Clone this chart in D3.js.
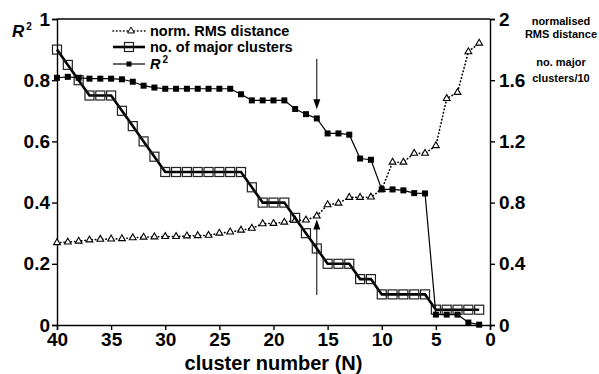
<!DOCTYPE html>
<html>
<head>
<meta charset="utf-8">
<script src="https://cdn.jsdelivr.net/npm/d3@7"></script>
<style>
  body { margin: 0; background: #fff; }
  svg { font-family: "Liberation Sans", Arial, sans-serif; }
  .axis text { font-weight: bold; font-size: 19px; fill: #000; }
  .axis path, .axis line { stroke: #000; stroke-width: 1.4; }
</style>
</head>
<body>
<svg id="chart" width="599" height="374"></svg>
<script>
"use strict";
// cluster number N (x axis runs from 40 down to 0)
const clusterN = [40, 39, 38, 37, 36, 35, 34, 33, 32, 31, 30, 29, 28, 27, 26, 25, 24, 23, 22, 21,
                  20, 19, 18, 17, 16, 15, 14, 13, 12, 11, 10, 9, 8, 7, 6, 5, 4, 3, 2, 1];
// R^2 (left axis)
const rSquared = [0.808, 0.811, 0.808, 0.805, 0.805, 0.805, 0.803, 0.795, 0.782, 0.776,
                  0.772, 0.772, 0.772, 0.772, 0.772, 0.772, 0.772, 0.754, 0.734, 0.734,
                  0.734, 0.734, 0.706, 0.689, 0.675, 0.626, 0.626, 0.622, 0.544, 0.540,
                  0.443, 0.443, 0.440, 0.431, 0.430, 0.034, 0.034, 0.034, 0.008, 0.001];
// no. of major clusters (plotted as clusters/10 on right axis)
const majorClusters = [18, 17, 16, 15, 15, 15, 14, 13, 12, 11, 10, 10, 10, 10, 10, 10, 10, 10, 9, 8,
                       8, 8, 7, 6, 5, 4, 4, 4, 3, 3, 2, 2, 2, 2, 2, 1, 1, 1, 1, 1];
// normalised RMS distance (right axis)
const rmsDist = [0.538, 0.542, 0.548, 0.556, 0.560, 0.562, 0.564, 0.570, 0.574, 0.576,
                 0.578, 0.578, 0.582, 0.584, 0.586, 0.600, 0.608, 0.620, 0.632, 0.662,
                 0.664, 0.672, 0.684, 0.686, 0.712, 0.786, 0.796, 0.834, 0.834, 0.836,
                 0.886, 1.064, 1.064, 1.122, 1.122, 1.172, 1.480, 1.520, 1.786, 1.842];

const xTicks = [40, 35, 30, 25, 20, 15, 10, 5, 0];
const leftTicks = [0, 0.2, 0.4, 0.6, 0.8, 1];
const rightTicks = [0, 0.4, 0.8, 1.2, 1.6, 2];
// annotation arrows at N = 16 (left axis units)
const arrows = [{n: 16, from: 0.87, to: 0.705}, {n: 16, from: 0.098, to: 0.345}];

const svg = d3.select("#chart");
const margin = {top: 19, right: 109, bottom: 49, left: 57};
const width = 599 - margin.left - margin.right,
    height = 374 - margin.top - margin.bottom;

const x = d3.scaleLinear().domain([40, 0]).range([margin.left, margin.left + width]);
const yL = d3.scaleLinear().domain([0, 1]).range([margin.top + height, margin.top]);
const yR = d3.scaleLinear().domain([0, 2]).range([margin.top + height, margin.top]);
const fmt = d => (d === 0 ? "0" : String(+d.toFixed(1)));

// axes
svg.append("g").attr("class", "axis")
    .attr("transform", `translate(0,${margin.top + height})`)
    .call(d3.axisBottom(x).tickValues(xTicks).tickSize(5).tickPadding(3).tickFormat(d3.format("d")));
svg.append("g").attr("class", "axis")
    .attr("transform", `translate(${margin.left},0)`)
    .call(d3.axisLeft(yL).tickValues(leftTicks).tickSize(5).tickPadding(2).tickFormat(fmt));
svg.append("g").attr("class", "axis")
    .attr("transform", `translate(${margin.left + width},0)`)
    .call(d3.axisRight(yR).tickValues(rightTicks).tickSize(5).tickPadding(4).tickFormat(fmt));
// top frame
svg.append("line")
    .attr("x1", margin.left).attr("x2", margin.left + width)
    .attr("y1", margin.top).attr("y2", margin.top)
    .attr("stroke", "#000").attr("stroke-width", 1.4);

const idx = d3.range(clusterN.length);

// normalised RMS distance: dotted line with open triangles
const rmsLine = d3.line().x(i => x(clusterN[i])).y(i => yR(rmsDist[i]));
svg.append("path").datum(idx)
    .attr("d", rmsLine)
    .attr("fill", "none").attr("stroke", "#000")
    .attr("stroke-width", 1.6).attr("stroke-dasharray", "0.5,3").attr("stroke-linecap", "round");
const tri = d3.symbol().type(d3.symbolTriangle).size(20);
svg.append("g").selectAll("path")
    .data(idx).enter().append("path")
    .attr("transform", i => `translate(${x(clusterN[i])},${yR(rmsDist[i])})`)
    .attr("d", tri)
    .attr("fill", "#fff").attr("stroke", "#000").attr("stroke-width", 1.1);

// no. of major clusters: thick line with open squares
const mcLine = d3.line().x(i => x(clusterN[i])).y(i => yR(majorClusters[i] / 10));
svg.append("path").datum(idx)
    .attr("d", mcLine)
    .attr("fill", "none").attr("stroke", "#000").attr("stroke-width", 2.6);
svg.append("g").selectAll("rect")
    .data(idx).enter().append("rect")
    .attr("x", i => x(clusterN[i]) - 4.5)
    .attr("y", i => yR(majorClusters[i] / 10) - 4.5)
    .attr("width", 9).attr("height", 9)
    .attr("fill", "none").attr("stroke", "#222").attr("stroke-width", 1.2);

// R^2: thin line with filled squares
const r2Line = d3.line().x(i => x(clusterN[i])).y(i => yL(rSquared[i]));
svg.append("path").datum(idx)
    .attr("d", r2Line)
    .attr("fill", "none").attr("stroke", "#000").attr("stroke-width", 1.2);
svg.append("g").selectAll("rect")
    .data(idx).enter().append("rect")
    .attr("x", i => x(clusterN[i]) - 3)
    .attr("y", i => yL(rSquared[i]) - 3)
    .attr("width", 6).attr("height", 6)
    .attr("fill", "#000");

// arrows
for (let a of arrows) {
    const ax = x(a.n), y0 = yL(a.from), y1 = yL(a.to);
    const dir = y1 > y0 ? 1 : -1;
    svg.append("line")
        .attr("x1", ax).attr("x2", ax).attr("y1", y0).attr("y2", y1 - dir * 6)
        .attr("stroke", "#000").attr("stroke-width", 1);
    svg.append("path")
        .attr("d", `M${ax},${y1} L${ax - 3.5},${y1 - dir * 10} L${ax + 3.5},${y1 - dir * 10} Z`)
        .attr("fill", "#000");
}

// legend
const legend = svg.append("g").attr("font-weight", "bold").attr("font-size", "14.5px");
const lx0 = 113, lx1 = 145, ltx = 150;
const rows = [31, 47, 64];
legend.append("line").attr("x1", lx0).attr("x2", lx1).attr("y1", rows[0]).attr("y2", rows[0])
    .attr("stroke", "#000").attr("stroke-width", 1.6).attr("stroke-dasharray", "0.5,3").attr("stroke-linecap", "round");
legend.append("path").attr("transform", `translate(${(lx0 + lx1) / 2 + 2},${rows[0]})`).attr("d", tri)
    .attr("fill", "#fff").attr("stroke", "#000");
legend.append("text").attr("x", ltx).attr("y", rows[0]).attr("dy", "0.35em").text("norm. RMS distance");

legend.append("line").attr("x1", lx0).attr("x2", lx1).attr("y1", rows[1]).attr("y2", rows[1])
    .attr("stroke", "#000").attr("stroke-width", 2.6);
legend.append("rect").attr("x", (lx0 + lx1) / 2 - 4.5).attr("y", rows[1] - 4.5).attr("width", 9).attr("height", 9)
    .attr("fill", "none").attr("stroke", "#222").attr("stroke-width", 1.2);
legend.append("text").attr("x", ltx).attr("y", rows[1]).attr("dy", "0.35em").text("no. of major clusters");

legend.append("line").attr("x1", lx0).attr("x2", lx1).attr("y1", rows[2]).attr("y2", rows[2])
    .attr("stroke", "#000").attr("stroke-width", 1.2);
legend.append("rect").attr("x", (lx0 + lx1) / 2 - 2.5).attr("y", rows[2] - 2.5).attr("width", 5).attr("height", 5)
    .attr("fill", "#000");
const r2t = legend.append("text").attr("x", ltx).attr("y", rows[2]).attr("dy", "0.35em");
r2t.append("tspan").attr("font-style", "italic").text("R");
r2t.append("tspan").attr("font-size", "10px").attr("dy", "-0.6em").attr("dx", "2").text("2");

// left axis label R^2
const yl = svg.append("text").attr("x", 12).attr("y", 31).attr("dy", "0.35em")
    .attr("font-weight", "bold").attr("font-size", "17px");
yl.append("tspan").attr("font-style", "italic").text("R");
yl.append("tspan").attr("font-size", "10px").attr("dy", "-0.7em").attr("dx", "2").text("2");

// x axis title
svg.append("text")
    .attr("x", margin.left + width / 2).attr("y", 363).attr("dy", "0.35em")
    .attr("text-anchor", "middle").attr("font-weight", "bold").attr("font-size", "20px")
    .text("cluster number (N)");

// right axis titles
const rt = svg.append("g").attr("font-weight", "bold").attr("font-size", "11px").attr("text-anchor", "middle");
[["normalised", 21], ["RMS distance", 34], ["no. major", 62], ["clusters/10", 78]].forEach(([t, yy]) => {
    rt.append("text").attr("x", 561).attr("y", yy).attr("dy", "0.35em").text(t);
});
</script>
</body>
</html>
